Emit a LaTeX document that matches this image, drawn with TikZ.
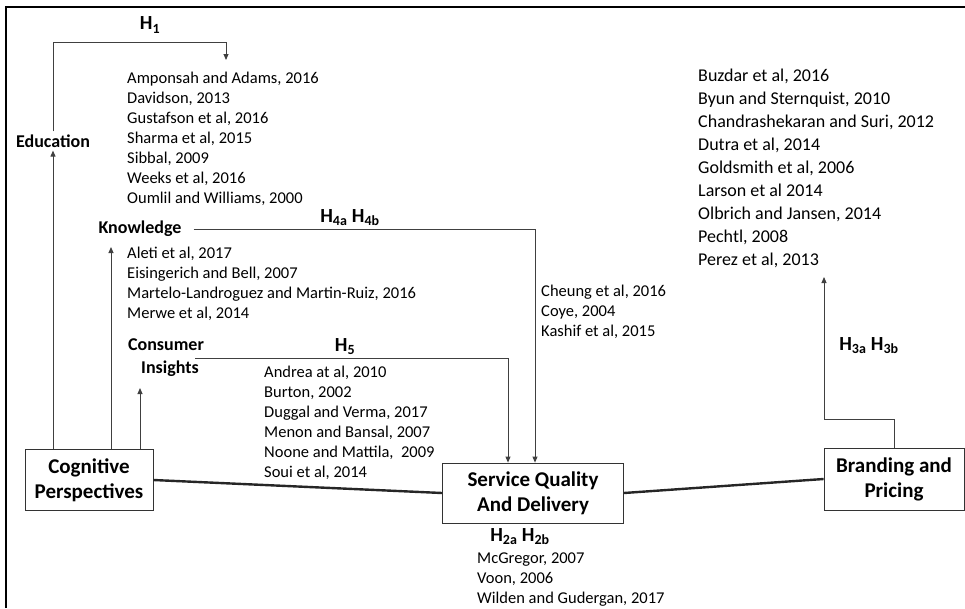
\documentclass[tikz,border=0pt]{standalone}
\usepackage{fontspec}
\setmainfont{Carlito}
\usetikzlibrary{arrows.meta}

\tikzset{
  box/.style={draw=black!80, thick, align=center, font=\fontsize{21}{25}\selectfont\bfseries},
  lbl/.style={font=\fontsize{18}{23}\selectfont\bfseries, inner sep=3pt},
  hyp/.style={font=\fontsize{20}{23}\selectfont\bfseries},
  reflist/.style={anchor=north west, inner sep=0pt, align=left, font=\fontsize{16.5}{20}\selectfont},
  link/.style={line width=2.4pt, black!85},
  arr/.style={-{Triangle[length=6pt,width=5pt]}, black!75, line width=0.9pt}
}

\begin{document}
\begin{tikzpicture}[x=1pt,y=-1pt]
\useasboundingbox (0,0) rectangle (965,608);
\draw[line width=2.5pt] (6,608) -- (6,7) -- (965,7);

% main boxes
\node[box, minimum width=128, minimum height=61] (cog) at (89,480) {Cognitive\\Perspectives};
\node[box, minimum width=181, minimum height=60] (sqd) at (533,493) {Service Quality\\And Delivery};
\node[box, minimum width=140, minimum height=62] (bp) at (894,479) {Branding and\\Pricing};

\draw[link] (cog.east)--(sqd.west);
\draw[link] (sqd.east)--(bp.west);

% cognitive perspectives
\node[lbl] (edu) at (53,141) {Education};
\node[lbl] (know) at (140,229) {Knowledge};
\node[lbl, align=center] (ci) at (166,358) {Consumer\\\hspace*{8pt}Insights};

\coordinate (kup) at (111,247);
\coordinate (ciup) at (140,388);
\coordinate (h1top) at (226,42);
\coordinate (h1end) at (226,60);

\draw[arr] (cog.north -| edu)--(edu.south);
\draw[arr] (cog.north -| kup)--(kup);
\draw[arr] (cog.north -| ciup)--(ciup);

\draw[arr] (edu.north)|-(h1top)--(h1end);
\node[hyp] (h1) at (150,25) {H\textsubscript{1}};

\draw[arr] ([xshift=9pt]know.east)-|([xshift=2pt]sqd.north);
\node[hyp] (h4) at (350,218) {H\textsubscript{4a} H\textsubscript{4b}};

\draw[arr] ([xshift=-12pt]ci.east)-|([xshift=-25pt]sqd.north);
\node[hyp] (h5) at (345,347) {H\textsubscript{5}};

\coordinate (brup) at (824,277);
\draw[arr] (bp.north)--++(0,-28)-|(brup);
\node[hyp] (h3) at (869,346) {H\textsubscript{3a} H\textsubscript{3b}};

\node[hyp] (h2) at (520,537) {H\textsubscript{2a} H\textsubscript{2b}};

% reference lists
\node[reflist] (edurefs) at (127,72) {Amponsah and Adams, 2016\\Davidson, 2013\\Gustafson et al, 2016\\Sharma et al, 2015\\Sibbal, 2009\\Weeks et al, 2016\\Oumlil and Williams, 2000};
\node[reflist] (knowrefs) at (127,247) {Aleti et al, 2017\\Eisingerich and Bell, 2007\\Martelo-Landroguez and Martin-Ruiz, 2016\\Merwe et al, 2014};
\node[reflist] (cirefs) at (264,366) {Andrea at al, 2010\\Burton, 2002\\Duggal and Verma, 2017\\Menon and Bansal, 2007\\Noone and Mattila,\ \ 2009\\Soui et al, 2014};
\node[reflist] (sqdrefs) at (541,285) {Cheung et al, 2016\\Coye, 2004\\Kashif et al, 2015};
\node[reflist] (h2refs) at (477,553) {McGregor, 2007\\Voon, 2006\\Wilden and Gudergan, 2017};
\node[reflist, font=\fontsize{18}{23}\selectfont] (bprefs) at (698,69) {Buzdar et al, 2016\\Byun and Sternquist, 2010\\Chandrashekaran and Suri, 2012\\Dutra et al, 2014\\Goldsmith et al, 2006\\Larson et al 2014\\Olbrich and Jansen, 2014\\Pechtl, 2008\\Perez et al, 2013};
\end{tikzpicture}
\end{document}
